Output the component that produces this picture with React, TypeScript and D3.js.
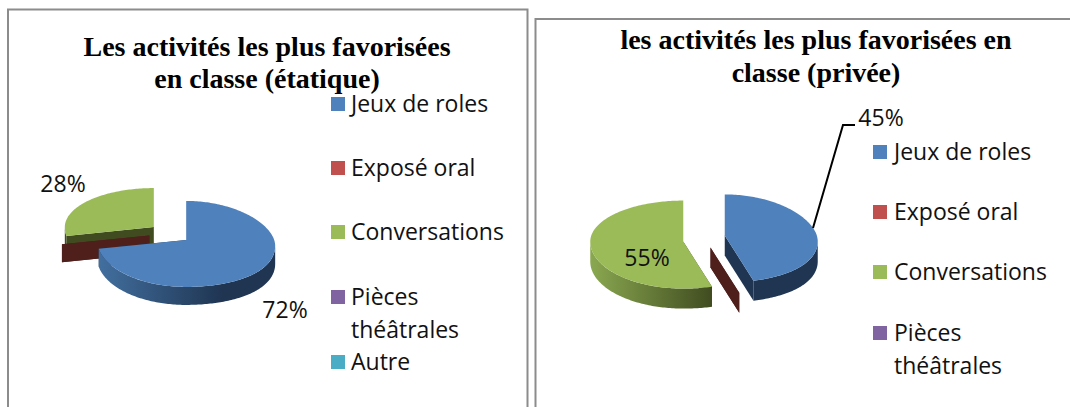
import React from "react";
import * as d3 from "d3";

const categoriesLeft = ["Jeux de roles", "Exposé oral", "Conversations", "Pièces théâtrales", "Autre"];
const valuesLeft = [72, 0, 28, 0, 0];
const categoriesRight = ["Jeux de roles", "Exposé oral", "Conversations", "Pièces théâtrales"];
const valuesRight = [45, 0, 55, 0];
const titleLeft = ["Les activités les plus favorisées", "en classe (étatique)"];
const titleRight = ["les activités les plus favorisées en", "classe (privée)"];
const colors = ["#4f81bd", "#c0504d", "#9bbb59", "#8064a2", "#4bacc6"];
const shadeColors = ["#1f3552", "#4f1f1c", "#404c20", "#3a2a50", "#1f5060"];
const wallStart = ["#426f9f", "#4f1f1c", "#8aa850", "#3a2a50", "#1f5060"];

const SANS = "'Open Sans','Noto Sans',sans-serif";
const SERIF = "'Liberation Serif',serif";
const TAU = 2 * Math.PI;
const line = d3.line<[number, number]>();
const pieGen = d3.pie<number>().sort(null).value((d) => d).startAngle(0).endAngle(TAU);

type Cfg = {
  id: string; cx: number; cy: number; explode: number; tilt: number;
  rx: number; ryBack: number; ryFront: number; depth: number; rimDrop: number; nudge: number[];
};

function Pie3D({ cfg, values, gradientSlices }: { cfg: Cfg; values: number[]; gradientSlices: number[] }) {
  const arcs = pieGen(values);
  const apex = (mid: number, i: number): [number, number] => [
    cfg.cx + cfg.explode * Math.sin(mid),
    cfg.cy - cfg.explode * Math.cos(mid) * cfg.tilt + (cfg.nudge[i] ?? 0),
  ];
  const rimPt = (a: [number, number], t: number): [number, number] => {
    const ux = Math.sin(t);
    const uy = -Math.cos(t);
    const right = Math.max(ux, 0);
    return [a[0] + cfg.rx * ux, a[1] + (uy < 0 ? cfg.ryBack : cfg.ryFront) * uy + cfg.rimDrop * right * right];
  };
  const sample = (a0: number, a1: number) => {
    const n = Math.max(2, Math.ceil(Math.abs(a1 - a0) / 0.02));
    return d3.range(n + 1).map((i) => a0 + ((a1 - a0) * i) / n);
  };
  const order = arcs.map((_, i) => i).filter((i) => arcs[i].value > 0 || i === 1);
  const sorted = [...order].sort((p, q) => {
    const ap = apex((arcs[p].startAngle + arcs[p].endAngle) / 2, p)[1];
    const aq = apex((arcs[q].startAngle + arcs[q].endAngle) / 2, q)[1];
    return ap - aq;
  });
  return (
    <g>
      <defs>
        {gradientSlices.map((i) => (
          <linearGradient key={i} id={`${cfg.id}-wall-${i}`} x1="0" x2="1" y1="0" y2="0">
            <stop offset="0" stopColor={wallStart[i]} />
            <stop offset={i === 0 ? "0.7" : "1"} stopColor={shadeColors[i]} />
            <stop offset="1" stopColor={shadeColors[i]} />
          </linearGradient>
        ))}
      </defs>
      {sorted.map((i) => {
        const d = arcs[i];
        const mid = (d.startAngle + d.endAngle) / 2;
        const a = apex(mid, i);
        const cut = (t: number) => {
          const r = rimPt(a, t);
          const pts: [number, number][] = [a, r, [r[0], r[1] + cfg.depth], [a[0], a[1] + cfg.depth]];
          return line(pts) + "Z";
        };
        const w0 = Math.max(d.startAngle, Math.PI / 2);
        const w1 = Math.min(d.endAngle, (3 * Math.PI) / 2);
        const rimTop = w1 > w0 ? sample(w0, w1).map((t) => rimPt(a, t)) : [];
        const wall = rimTop.length
          ? line([...rimTop, ...[...rimTop].reverse().map((p) => [p[0], p[1] + cfg.depth] as [number, number])]) + "Z"
          : null;
        const top = d.value > 0 ? line([a, ...sample(d.startAngle, d.endAngle).map((t) => rimPt(a, t))]) + "Z" : null;
        const useGrad = gradientSlices.includes(i);
        return (
          <g key={i}>
            <path d={cut(d.startAngle)} fill={shadeColors[i]} />
            <path d={cut(d.endAngle)} fill={shadeColors[i]} />
            {wall && <path d={wall} fill={useGrad ? `url(#${cfg.id}-wall-${i})` : shadeColors[i]} />}
            {top && <path d={top} fill={colors[i]} />}
          </g>
        );
      })}
    </g>
  );
}

function Legend({ items, x, ys, textX }: { items: string[]; x: number; ys: number[]; textX: number }) {
  return (
    <g fontFamily={SANS} fontSize={23} fill="#111">
      {items.map((name, i) => {
        const parts = name === "Pièces théâtrales" ? ["Pièces", "théâtrales"] : [name];
        return (
          <g key={name}>
            <rect x={x} y={ys[i] - 7} width={14} height={14} fill={colors[i]} />
            {parts.map((p, j) => (
              <text key={p} x={textX} y={ys[i] + 8 + j * 33}>{p}</text>
            ))}
          </g>
        );
      })}
    </g>
  );
}

const leftCfg: Cfg = { id: "l", cx: 170, cy: 233.5, explode: 21, tilt: 0.48, rx: 89, ryBack: 39, ryFront: 47, depth: 18, rimDrop: 6, nudge: [0, 0, 0, 0, 0] };
const rightCfg: Cfg = { id: "r", cx: 704, cy: 238, explode: 21, tilt: 0.48, rx: 93, ryBack: 41, ryFront: 47, depth: 20, rimDrop: 6, nudge: [-1, 0, 2, 0] };

export default function App() {
  return (
    <svg width={1070} height={407} style={{ position: "absolute", left: 0, top: 0, background: "#fff" }}>
      <path d="M8 407V9.5H527.5V407" fill="none" stroke="#8c8c8c" strokeWidth={2} />
      <path d="M535.5 407V19H1070" fill="none" stroke="#8c8c8c" strokeWidth={2} />

      <g fontFamily={SERIF} fontWeight="bold" fontSize={28} fill="#000" textAnchor="middle">
        {titleLeft.map((t, i) => <text key={t} x={267} y={56 + i * 32}>{t}</text>)}
        {titleRight.map((t, i) => <text key={t} x={816} y={49 + i * 33}>{t}</text>)}
      </g>

      <Pie3D cfg={leftCfg} values={valuesLeft} gradientSlices={[0]} />
      <Pie3D cfg={rightCfg} values={valuesRight} gradientSlices={[2]} />

      <path d="M813 228L843 125H855" fill="none" stroke="#000" strokeWidth={2} />

      <g fontFamily={SANS} fontSize={23} fill="#111" textAnchor="middle">
        <text x={63} y={192}>{valuesLeft[2]}%</text>
        <text x={285} y={318}>{valuesLeft[0]}%</text>
        <text x={647} y={266}>{valuesRight[2]}%</text>
        <text x={881} y={126}>{valuesRight[0]}%</text>
      </g>

      <Legend items={categoriesLeft} x={331} textX={351} ys={[104, 168, 232, 297, 362]} />
      <Legend items={categoriesRight} x={873} textX={894} ys={[152, 212, 272, 333]} />
    </svg>
  );
}
